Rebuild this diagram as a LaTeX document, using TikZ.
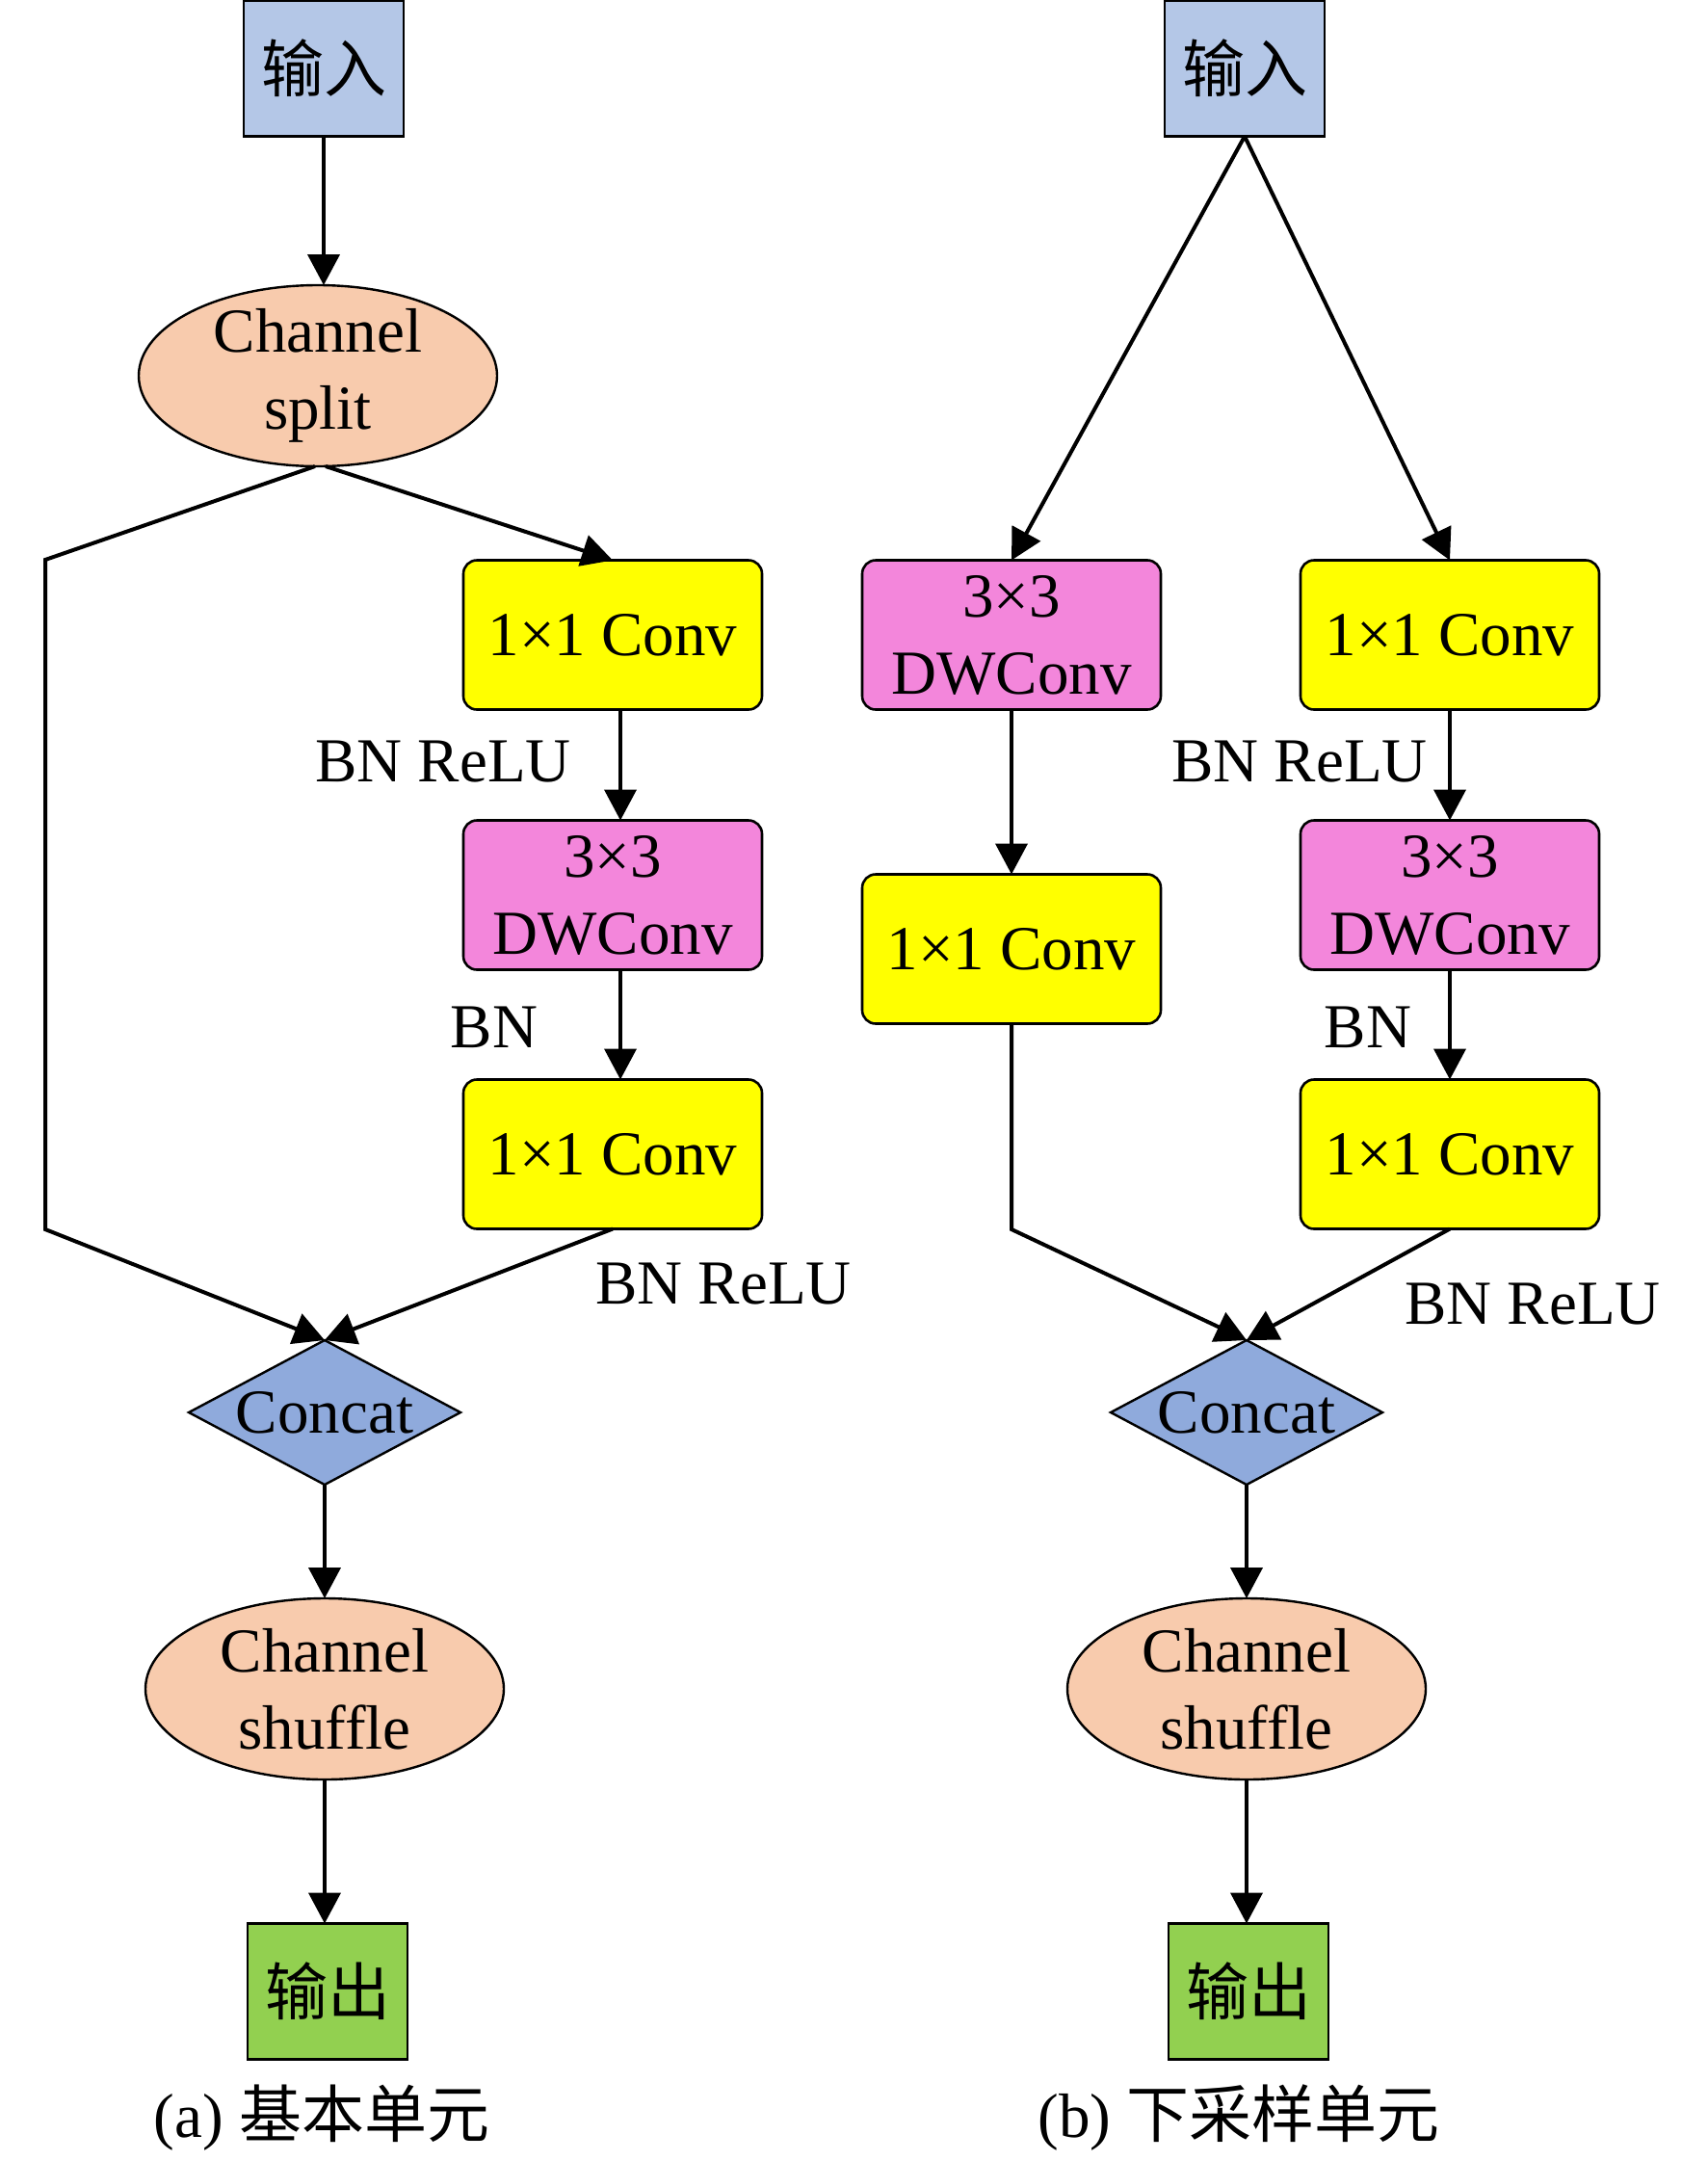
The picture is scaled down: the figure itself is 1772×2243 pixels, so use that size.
\documentclass[tikz,border=0pt]{standalone}
\usepackage{fontspec}
\setmainfont{Liberation Serif}
\newfontfamily\cjk{Noto Sans CJK SC}
\usetikzlibrary{shapes.geometric,arrows.meta}
\definecolor{inblue}{HTML}{B4C7E7}
\definecolor{peach}{HTML}{F8CBAD}
\definecolor{convyellow}{HTML}{FFFF00}
\definecolor{dwpink}{HTML}{F386DB}
\definecolor{catblue}{HTML}{8FAADC}
\definecolor{outgreen}{HTML}{92D050}
\begin{document}
\begin{tikzpicture}[x=1pt,y=-1pt,
  font=\fontsize{65}{80}\selectfont,
  every node/.style={inner sep=0pt, outer sep=0pt},
  io/.style={draw, line width=2.6pt, minimum width=166pt, minimum height=141pt},
  conv/.style={draw, rounded corners=14pt, line width=2.6pt, fill=convyellow,
    minimum width=310pt, minimum height=155pt, align=center},
  dw/.style={conv, fill=dwpink},
  ell/.style={ellipse, draw, line width=2.4pt, fill=peach, minimum width=372pt, minimum height=188pt},
  cat/.style={diamond, draw, line width=2.4pt, fill=catblue, minimum width=282pt, minimum height=150pt},
  arr/.style={line width=4pt, -{Triangle[length=32pt,width=33pt]}},
  lbl/.style={}
]
\useasboundingbox (0,0) rectangle (1772,2243);
% ---- (a) basic unit ----
\node[io, fill=inblue] (ina) at (336,71) {\cjk 输入};
\node[ell, label={[align=center]center:Channel\\split}] (split) at (330,390) {};
\node[conv] (a1) at (636,659) {1×1 Conv};
\node[dw] (a2) at (636,929) {3×3\\DWConv};
\node[conv] (a3) at (636,1198) {1×1 Conv};
\node[cat, label=center:Concat] (cata) at (337,1466) {};
\node[ell, label={[align=center]center:Channel\\shuffle}] (shufa) at (337,1753) {};
\node[io, fill=outgreen] (outa) at (340,2067) {\cjk 输出};
\node (capa) at (334,2198) {(a) {\cjk 基本单元}};
\node[lbl] (la1) at (460,791) {BN ReLU};
\node[lbl] (la2) at (513,1066) {BN};
\node[lbl] (la3) at (751,1333) {BN ReLU};
\coordinate (ka1) at (47,581);
\coordinate (ka2) at (47,1276);
\draw[arr] ([xshift=-3pt]split.south) -- (ka1) -- (ka2) -- (cata.north);
\draw[arr] ([xshift=8pt]split.south) -- (a1.north);
\draw[arr] ([xshift=8pt]a1.south) -- ([xshift=8pt]a2.north);
\draw[arr] ([xshift=8pt]a2.south) -- ([xshift=8pt]a3.north);
\draw[arr] (a3.south) -- (cata.north);
\draw[arr] (ina.south) -- (ina.south |- split.north);
\draw[arr] (cata.south) -- (shufa.north);
\draw[arr] (shufa.south) -- (shufa.south |- outa.north);
% ---- (b) downsampling unit ----
\node[io, fill=inblue] (inb) at (1292,71) {\cjk 输入};
\node[dw] (b1) at (1050,659) {3×3\\DWConv};
\node[conv] (b2) at (1505,659) {1×1 Conv};
\node[conv] (b3) at (1050,985) {1×1 Conv};
\node[dw] (b4) at (1505,929) {3×3\\DWConv};
\node[conv] (b5) at (1505,1198) {1×1 Conv};
\node[cat, label=center:Concat] (catb) at (1294,1466) {};
\node[ell, label={[align=center]center:Channel\\shuffle}] (shufb) at (1294,1753) {};
\node[io, fill=outgreen] (outb) at (1296,2067) {\cjk 输出};
\node (capb) at (1286,2198) {(b) {\cjk 下采样单元}};
\node[lbl] (lb1) at (1349,791) {BN ReLU};
\node[lbl] (lb2) at (1420,1066) {BN};
\node[lbl] (lb3) at (1591,1354) {BN ReLU};
\coordinate (kb) at (1050,1276);
\draw[arr] (inb.south) -- (b1.north);
\draw[arr] (inb.south) -- (b2.north);
\draw[arr] (b1.south) -- (b3.north);
\draw[arr] (b3.south) -- (kb) -- (catb.north);
\draw[arr] (b2.south) -- (b4.north);
\draw[arr] (b4.south) -- (b5.north);
\draw[arr] (b5.south) -- (catb.north);
\draw[arr] (catb.south) -- (shufb.north);
\draw[arr] (shufb.south) -- (shufb.south |- outb.north);
\end{tikzpicture}
\end{document}
